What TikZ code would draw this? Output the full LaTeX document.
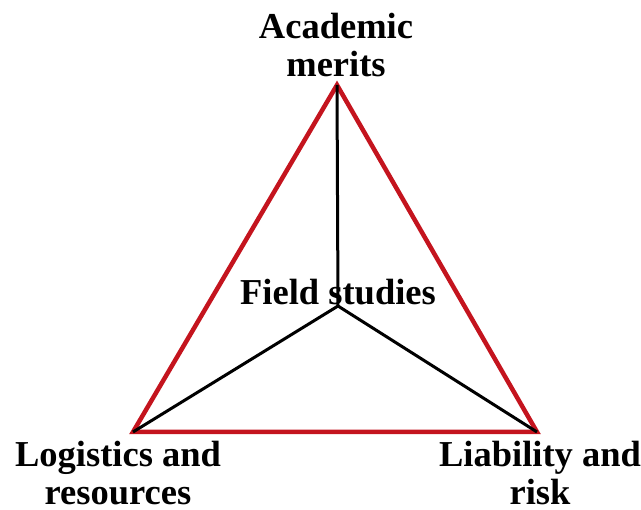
\documentclass[tikz,border=0pt]{standalone}
\usepackage{fontspec}
\setmainfont{Liberation Serif}
\usetikzlibrary{positioning}
\definecolor{rimred}{HTML}{C4141E}
\tikzset{
  lbl/.style={font=\bfseries\fontsize{36.5}{38.5}\selectfont,align=center,anchor=base,inner sep=0pt},
  rim/.style={draw=rimred,line width=4.5pt},
  spoke/.style={draw=black,line width=3pt}
}

\begin{document}
\begin{tikzpicture}[x=1pt,y=-1pt]
    \useasboundingbox (0,0) rectangle (641,510);

    \coordinate (acad) at (337,85);
    \coordinate (logi) at (133,432);
    \coordinate (liab) at (537,432);
    \coordinate (hub) at (338,306);

    \draw[rim] (acad) -- (logi) -- (liab) -- cycle;
    \draw[spoke] (hub) -- (acad);
    \draw[spoke] (hub) -- (logi);
    \draw[spoke] (hub) -- (liab);

    \node[lbl] (top) at (336,77) {Academic\\merits};
    \node[lbl] (mid) at (338,305) {Field studies};
    \node[lbl] (left) at (118,505) {Logistics and\\resources};
    \node[lbl] (right) at (540,505) {Liability and\\risk};
  \end{tikzpicture}
\end{document}
